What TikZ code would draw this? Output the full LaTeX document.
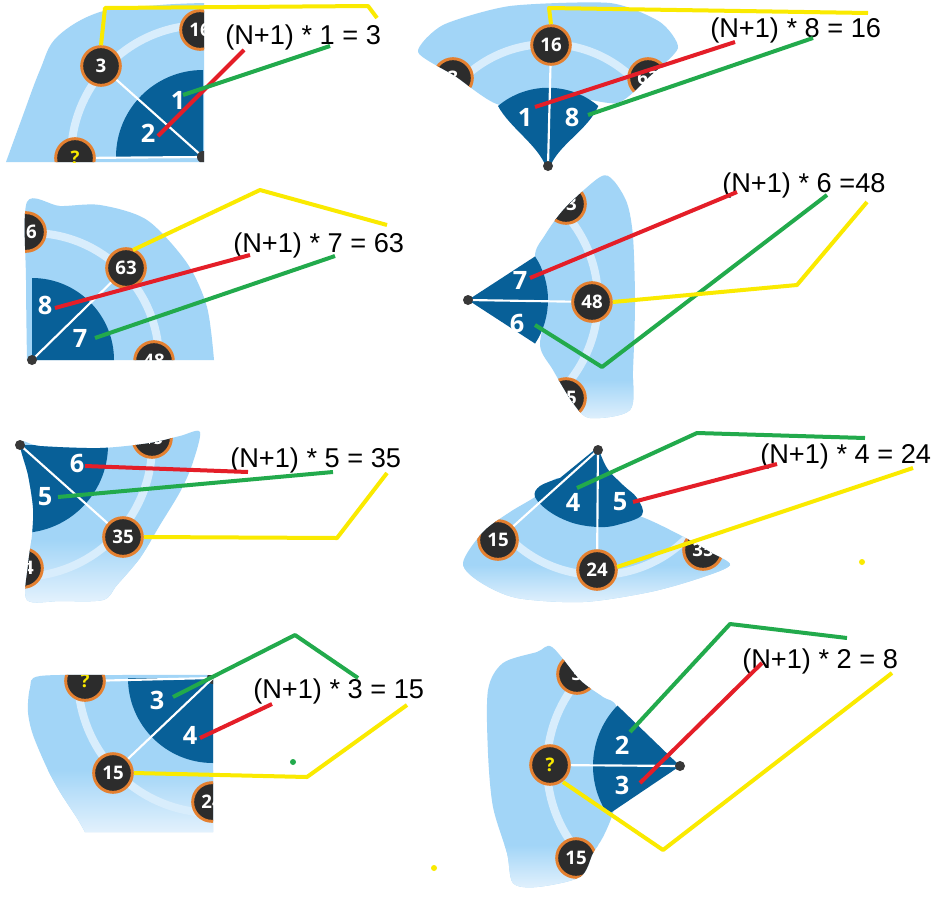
\documentclass[tikz,border=0pt]{standalone}
\usepackage{fontspec}
\setmainfont{Liberation Sans}
\newfontfamily\numfont{Open Sans}
\definecolor{lb}{RGB}{162,213,247}
\definecolor{lbw}{RGB}{228,242,253}
\definecolor{ringc}{RGB}{216,237,252}
\definecolor{dk}{RGB}{8,96,152}
\definecolor{ndfill}{RGB}{44,44,44}
\definecolor{ndor}{RGB}{228,128,48}
\definecolor{yl}{RGB}{250,234,0}
\definecolor{rd}{RGB}{228,30,40}
\definecolor{gr}{RGB}{34,170,76}
\tikzset{
 nd/.style={circle, fill=ndfill, draw=ndor, line width=2.2pt, minimum size=29pt, inner sep=0pt, text=white, font=\numfont\bfseries\fontsize{14}{15}\selectfont},
 qn/.style={nd, text=yl},
 bignum/.style={text=white, inner sep=0pt, font=\numfont\bfseries\fontsize{19}{20}\selectfont},
 eq/.style={anchor=base west, inner sep=0pt, font=\fontsize{20.4}{24}\selectfont},
 wl/.style={draw=white, line width=1.6pt},
 ringline/.style={draw=ringc, line width=6pt},
 ptr/.style={fill=black!78},
 yline/.style={draw=yl, line width=3pt, line join=round},
 rline/.style={draw=rd, line width=3pt, line join=round},
 gline/.style={draw=gr, line width=3pt, line join=round},
 fade/.style={top color=lb, bottom color=lbw},
}
\begin{document}
\begin{tikzpicture}[x=0.75pt,y=-0.75pt]
\useasboundingbox[fill=white] (0,0) rectangle (942,907);

% ---------------- Panel 1 ----------------
\def\LA{plot[smooth, tension=0.6] coordinates {(6,162)(22,118)(40,70)(57,37)(100,12)(160,5)(204,3)} -- (204,162) -- cycle}
\coordinate (v1) at (203,157);
\fill[lb] \LA;
\begin{scope}
\clip \LA;
\draw[ringline] (v1) ++(180:132) arc[start angle=180,end angle=270,radius=132];
\fill[dk] (v1) -- ++(180:87) arc[start angle=180,end angle=270,radius=87] -- cycle;
\node[nd] (n1a) at (101,66) {3};
\node[nd] (n1b) at (200,30) {16};
\node[qn] (n1c) at (75,158) {?};
\draw[wl] (v1) -- (n1a);
\draw[wl] (v1) -- (n1c);
\fill[ptr] (v1) circle[radius=6];
\end{scope}
\node[bignum] (b1a) at (178,100) {1};
\node[bignum] (b1b) at (148,133) {2};
\node[eq] (e1) at (225,44) {(N+1) * 1 = 3};
\draw[yline] (n1a.north) -- (105,8) -- (368,6) -- (377,18);
\draw[rline] (158,136) -- (244,50);
\draw[gline] (183,95) -- (330,46);

% ---------------- Panel 2 ----------------
\def\LB{plot[smooth cycle, tension=0.4] coordinates {(500,105)(455,76)(418,52)(443,25)(510,6)(610,3)(660,22)(678,48)(650,76)(617,103)(560,95)}}
\coordinate (v2) at (548,166);
\fill[lb] \LB;
\begin{scope}
\clip \LB;
\draw[ringline] (v2) ++(-145:122) arc[start angle=-145,end angle=-35,radius=122];
\node[nd] (n2a) at (551,45) {16};
\node[nd] (n2b) at (453,78) {3};
\node[nd] (n2c) at (648,78) {63};
\end{scope}
\fill[dk] (498,106) arc[start angle=-130,end angle=-50,radius=78] .. controls (588,130) and (558,145) .. (550,167) -- (546,167) .. controls (538,145) and (510,128) .. (498,106) -- cycle;
\draw[wl] (v2) -- (n2a);
\fill[ptr] (v2) circle[radius=5];
\node[bignum] (b2a) at (525,117) {1};
\node[bignum] (b2b) at (572,117) {8};
\node[eq] (e2) at (710,37) {(N+1) * 8 = 16};
\draw[yline] (n2a.north) -- (549,8) -- (868,13);
\draw[rline] (535,107) -- (735,42);
\draw[gline] (588,115) -- (813,38);

% ---------------- Panel 3 ----------------
\def\LC{plot[smooth, tension=0.5] coordinates {(27,360)(26,280)(27,202)(60,206)(100,205)(147,220)(187,263)(207,307)(214,360)} -- cycle}
\coordinate (v3) at (32,360);
\fill[lb] \LC;
\begin{scope}
\clip \LC;
\draw[ringline] (v3) ++(-95:127) arc[start angle=-95,end angle=5,radius=127];
\fill[dk] (v3) -- ++(0:82) arc[start angle=0,end angle=-90,radius=82] -- cycle;
\node[nd] (n3a) at (126,268) {63};
\node[nd] (n3b) at (26,232) {16};
\node[nd] (n3c) at (154,361) {48};
\end{scope}
\draw[wl] (v3) -- (n3a);
\fill[ptr] (v3) circle[radius=5];
\node[bignum] (b3a) at (45,305) {8};
\node[bignum] (b3b) at (80,338) {7};
\node[eq] (e3) at (233,252) {(N+1) * 7 = 63};
\draw[yline] (133,250) -- (260,190) -- (387,225);
\draw[rline] (55,308) -- (250,255);
\draw[gline] (95,338) -- (335,256);

% ---------------- Panel 4 ----------------
\def\LD{plot[smooth cycle, tension=0.5] coordinates {(535,257)(545,235)(565,208)(600,177)(613,180)(627,203)(633,237)(635,303)(633,370)(630,410)(590,418)(573,403)(553,370)(540,345)(548,300)}}
\coordinate (v4) at (468,300);
\fill[lb] \LD;
\begin{scope}
\clip \LD;
\shade[fade] (520,380) rectangle (640,422);
\draw[ringline] (v4) ++(-50:130) arc[start angle=-50,end angle=50,radius=130];
\node[nd] (n4a) at (592,302) {48};
\node[nd] (n4b) at (566,204) {63};
\node[nd] (n4c) at (566,398) {35};
\end{scope}
\fill[dk] (v4) -- ++(-33:80) arc[start angle=-33,end angle=33,radius=80] -- cycle;
\draw[wl] (v4) -- (n4a);
\fill[ptr] (v4) circle[radius=5];
\node[bignum] (b4a) at (520,280) {7};
\node[bignum] (b4b) at (517,323) {6};
\node[eq] (e4) at (722,192) {(N+1) * 6 =48};
\draw[rline] (530,278) -- (737,192);
\draw[gline] (535,325) -- (602,367) -- (827,195);
\draw[yline] (n4a.east) -- (797,285) -- (867,202);

% ---------------- Panel 5 ----------------
\def\LE{plot[smooth cycle, tension=0.5] coordinates {(20,442)(40,446)(100,448)(150,443)(180,436)(200,432)(192,465)(180,492)(160,525)(140,558)(117,585)(103,600)(60,601)(27,600)(28,565)(32,535)(33,508)(28,475)}}
\coordinate (v5) at (20,445);
\fill[lb] \LE;
\begin{scope}
\clip \LE;
\shade[fade] (0,540) rectangle (210,603);
\draw[ringline] (v5) ++(-5:132) arc[start angle=-5,end angle=95,radius=132];
\fill[dk] (v5) -- ++(0:88) arc[start angle=0,end angle=90,radius=88] -- cycle;
\node[nd] (n5a) at (123,537) {35};
\node[nd] (n5b) at (152,438) {48};
\node[nd] (n5c) at (23,568) {24};
\end{scope}
\draw[wl] (v5) -- (n5a);
\fill[ptr] (v5) circle[radius=5];
\node[bignum] (b5a) at (77,463) {6};
\node[bignum] (b5b) at (45,497) {5};
\node[eq] (e5) at (230,467) {(N+1) * 5 = 35};
\draw[rline] (85,466) -- (248,472);
\draw[gline] (58,497) -- (333,472);
\draw[yline] (n5a.east) -- (337,538) -- (387,473);

% ---------------- Panel 6 ----------------
\def\LF{plot[smooth cycle, tension=0.5] coordinates {(560,478)(535,497)(510,512)(483,532)(463,563)(480,582)(517,598)(583,602)(650,592)(700,578)(730,565)(710,552)(680,535)(642,517)(598,505)}}
\coordinate (v6) at (598,450);
\fill[lb] \LF;
\begin{scope}
\clip \LF;
\shade[fade] (450,565) rectangle (740,605);
\draw[ringline] (v6) ++(20:125) arc[start angle=20,end angle=160,radius=125];
\node[nd] (n6a) at (597,570) {24};
\node[nd] (n6b) at (498,540) {15};
\node[nd] (n6c) at (703,550) {35};
\end{scope}
\fill[dk] (560,478) -- plot[smooth, tension=0.6] coordinates {(598,447)(607,468)(623,485)(637,498)(642,515)(617,525)(598,527)(573,523)(550,512)(535,497)(540,486)(560,478)} -- cycle;
\draw[wl] (v6) -- (n6a);
\draw[wl] (v6) -- (n6b);
\fill[ptr] (v6) circle[radius=5];
\node[bignum] (b6a) at (573,502) {4};
\node[bignum] (b6b) at (620,502) {5};
\node[eq] (e6) at (760,463) {(N+1) * 4 = 24};
\draw[gline] (577,488) -- (697,433) -- (865,438);
\draw[rline] (633,502) -- (777,464);
\draw[yline] (617,567) -- (913,468);
\fill[yl] (862,562) circle[radius=3];

% ---------------- Panel 7 ----------------
\def\LG{plot[smooth, tension=0.5] coordinates {(213,675)(120,675)(40,676)(30,688)(28,712)(33,735)(47,768)(60,792)(77,818)(85,832)} -- (213,832) -- cycle}
\coordinate (v7) at (213,678);
\fill[lb] \LG;
\begin{scope}
\clip \LG;
\shade[fade] (20,770) rectangle (215,834);
\draw[ringline] (v7) ++(85:135) arc[start angle=85,end angle=185,radius=135];
\fill[dk] (v7) -- ++(180:85) arc[start angle=180,end angle=90,radius=85] -- cycle;
\node[qn] (n7a) at (85,681) {?};
\node[nd] (n7b) at (113,773) {15};
\node[nd] (n7c) at (212,802) {24};
\draw[wl] (n7a) -- (v7);
\fill[ptr] (v7) circle[radius=6];
\end{scope}
\draw[wl] (v7) -- (n7b);
\node[bignum] (b7a) at (157,700) {3};
\node[bignum] (b7b) at (190,735) {4};
\node[eq] (e7) at (253,698) {(N+1) * 3 = 15};
\draw[gline] (173,697) -- (295,635) -- (358,678);
\draw[rline] (200,738) -- (272,704);
\draw[yline] (n7b.east) -- (307,777) -- (407,705);
\fill[gr] (293,762) circle[radius=3];

% ---------------- Panel 8 ----------------
\def\LH{plot[smooth cycle, tension=0.5] coordinates {(488,690)(503,663)(537,652)(552,647)(580,680)(603,697)(617,708)(625,766)(613,813)(603,837)(593,853)(580,877)(537,887)(513,883)(507,853)(493,807)(488,753)}}
\coordinate (v8) at (680,766);
\fill[lb] \LH;
\begin{scope}
\clip \LH;
\shade[fade] (480,845) rectangle (630,890);
\draw[ringline] (v8) ++(130:133) arc[start angle=130,end angle=230,radius=133];
\node[qn] (n8a) at (550,765) {?};
\node[nd] (n8b) at (577,674) {3};
\node[nd] (n8c) at (576,858) {15};
\end{scope}
\fill[dk] (v8) -- ++(-136:87) arc[start angle=-136,end angle=-214,radius=87] -- cycle;
\draw[wl] (n8a) -- (v8);
\fill[ptr] (v8) circle[radius=5];
\node[bignum] (b8a) at (622,745) {2};
\node[bignum] (b8b) at (622,785) {3};
\node[eq] (e8) at (742,668) {(N+1) * 2 = 8};
\draw[gline] (630,732) -- (730,624) -- (847,638);
\draw[rline] (640,783) -- (762,663);
\draw[yline] (563,782) -- (663,850) -- (892,673);
\fill[yl] (434,868) circle[radius=3];
\end{tikzpicture}
\end{document}
